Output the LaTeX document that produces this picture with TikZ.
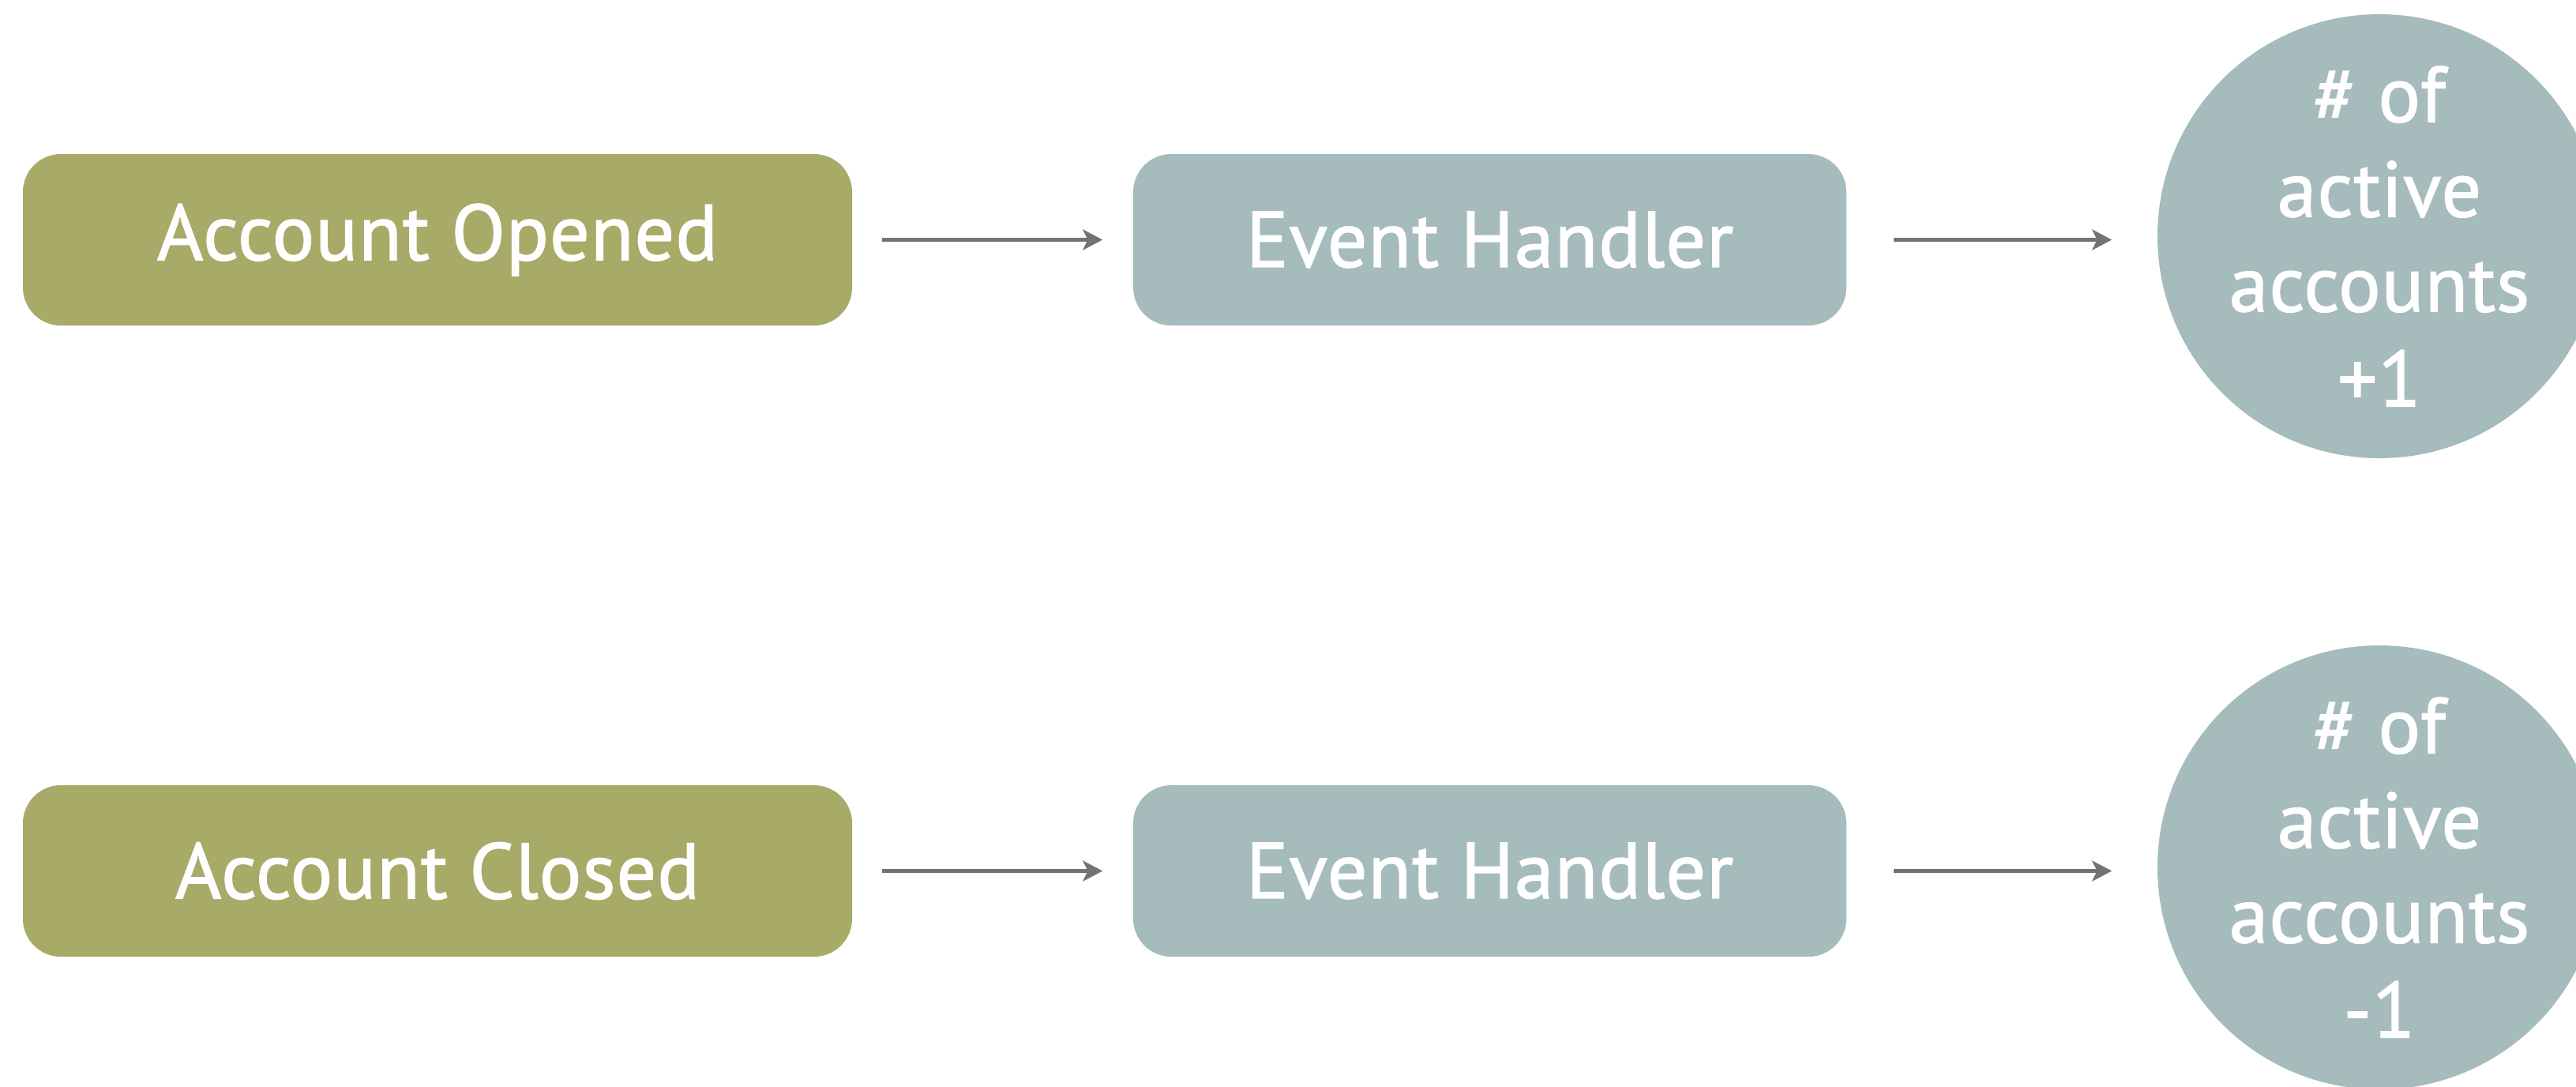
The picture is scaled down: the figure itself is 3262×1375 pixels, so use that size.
\documentclass[tikz,border=0pt]{standalone}
\usepackage{fontspec}
\setmainfont{PT Sans}
\newfontfamily\labelfont{PT Sans}[FakeBold=1.4, LetterSpace=1]
\usetikzlibrary{arrows.meta,calc}
\definecolor{olivebox}{HTML}{A8AA68}
\definecolor{slatebox}{HTML}{A6BBBB}
\definecolor{arrowgray}{HTML}{737373}
\tikzset{
  lbl/.style={text=white, font=\labelfont\fontsize{25}{30}\selectfont, align=center, inner sep=0pt},
  eventbox/.style={lbl, fill=olivebox, rounded corners=12pt, minimum width=262.5pt, minimum height=54.25pt},
  handlerbox/.style={lbl, fill=slatebox, rounded corners=12pt, minimum width=225.75pt, minimum height=54.25pt},
  counter/.style={circle, fill=slatebox, inner sep=0pt, minimum size=140.5pt},
  flow/.style={draw=arrowgray, line width=1.25pt, -{Stealth[length=6.25pt, width=6.5pt, inset=1.6pt]}}
}
\begin{document}
\begin{tikzpicture}[x=0.25pt, y=-0.25pt]
  \useasboundingbox (0,0) rectangle (3262,1375);
  \clip (0,0) rectangle (3262,1375);

  % top row: account opened
  \node[eventbox]   (opened)   at (554,303.5)    {Account Opened};
  \node[handlerbox] (handlerA) at (1886.5,303.5) {Event Handler};
  \node[counter]    (plus)     at (3013,299)     {};
  \node[lbl]        (plustext) at (plus.center)  {\# of\\active\\accounts\\+1};

  % bottom row: account closed
  \node[eventbox]   (closed)    at (554,1102.5)    {Account Closed};
  \node[handlerbox] (handlerB)  at (1886.5,1102.5) {Event Handler};
  \node[counter]    (minus)     at (3013,1098)     {};
  \node[lbl]        (minustext) at (minus.center)  {\# of\\active\\accounts\\-1};

  % connectors
  \draw[flow, shorten <=9.25pt, shorten >=9.5pt] (opened.east) -- (handlerA.west);
  \draw[flow, shorten <=14.75pt, shorten >=14.25pt] (handlerA.east) -- (handlerA.east -| plus.west);
  \draw[flow, shorten <=9.25pt, shorten >=9.5pt] (closed.east) -- (handlerB.west);
  \draw[flow, shorten <=14.75pt, shorten >=14.25pt] (handlerB.east) -- (handlerB.east -| minus.west);
\end{tikzpicture}
\end{document}
